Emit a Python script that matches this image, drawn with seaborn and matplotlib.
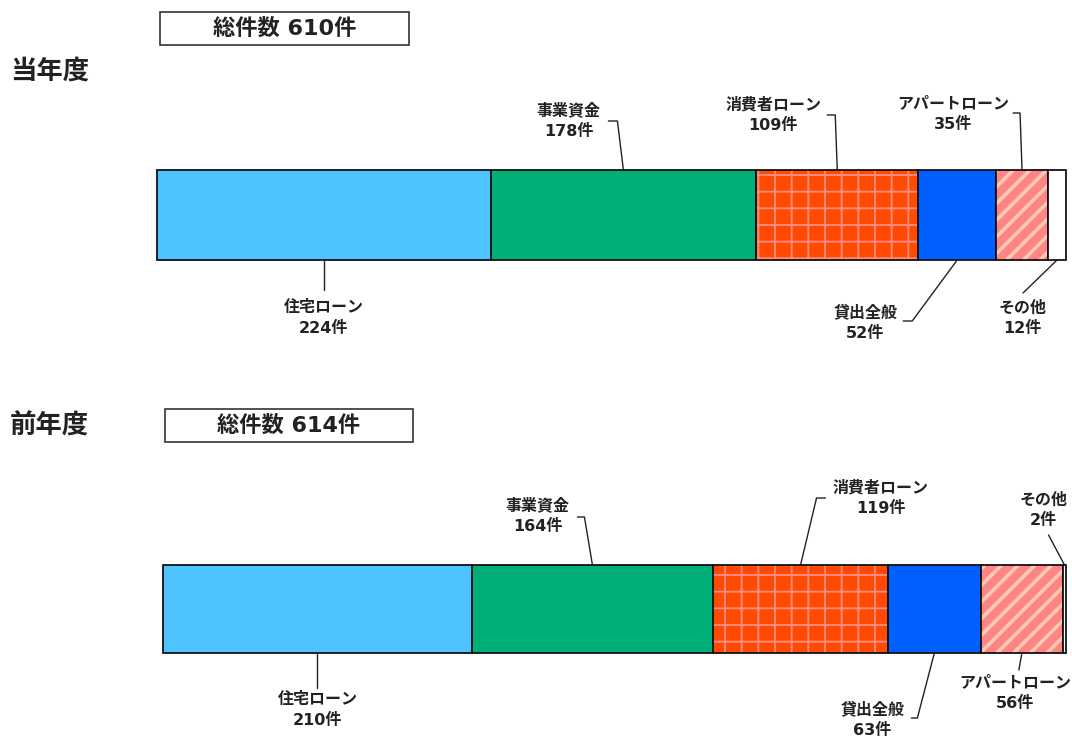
import matplotlib
matplotlib.use("Agg")
import matplotlib.pyplot as plt
from matplotlib.patches import Rectangle
from matplotlib.lines import Line2D
import seaborn as sns

# ---- data ----
categories = ['住宅ローン', '事業資金', '消費者ローン', '貸出全般', 'アパートローン', 'その他']
current = [224, 178, 109, 52, 35, 12]
previous = [210, 164, 119, 63, 56, 2]
year_labels = ['当年度', '前年度']
unit = '件'

# ---- style ----
sns.set_theme(style='white')
plt.rcParams['font.family'] = ['DejaVu Sans', 'Noto Sans CJK JP']
plt.rcParams['hatch.linewidth'] = 1.6

colors = ['#4FC3FF', '#00AF78', '#FF4A00', '#005FFF', '#FF8585', '#FFFFFF']
hatches = [None, None, '+', None, '//', None]
hatch_colors = [None, None, '#FF8A80', None, '#FFC9B3', None]
hatch_lw = [None, None, 1.4, None, 2.6, None]

W, H = 1072, 738
fig = plt.figure(figsize=(W / 100, H / 100), dpi=100)


def px(x, y):
    """figure pixel (top-left origin) -> figure fraction"""
    return x / W, 1 - y / H


rows = [
    dict(vals=current, left=157, right=1066, top=170, bottom=260, title_y=72,
         box=(160, 12, 409, 45),
         ann=[('b', [(0, 0), (0, 30)], (0, 58)),
              ('t', [(0, 0), (-6, -49), (-15, -49)], (-55, -49)),
              ('t', [(0, 0), (-2, -55), (-10, -55)], (-64, -55)),
              ('b', [(0, 0), (-45, 61), (-54, 61)], (-92, 63)),
              ('t', [(0, 0), (-2, -57), (-9, -57)], (-69, -56)),
              ('b', [(0, 0), (-34, 33)], (-35, 58))]),
    dict(vals=previous, left=163, right=1066, top=565, bottom=653, title_y=427,
         box=(165, 409, 413, 442),
         ann=[('b', [(0, 0), (0, 35)], (0, 57)),
              ('t', [(0, 0), (-8, -48), (-15, -48)], (-55, -49)),
              ('t', [(0, 0), (16, -67), (25, -67)], (80, -67)),
              ('b', [(0, 0), (-17, 65), (-23, 65)], (-62, 67)),
              ('b', [(0, 0), (-3, 17)], (-7, 40)),
              ('t', [(0, 0), (-16, -30)], (-21, -55))]),
]

label_fs = 11.5
for r, row in enumerate(rows):
    vals = row['vals']
    total = sum(vals)
    x0, y0 = px(row['left'], row['bottom'])
    x1, y1 = px(row['right'], row['top'])
    ax = fig.add_axes([x0, y0, x1 - x0, y1 - y0])
    ax.set_xlim(0, total)
    ax.set_ylim(-0.5, 0.5)
    ax.axis('off')

    lefts = []
    acc = 0
    for i, v in enumerate(vals):
        lefts.append(acc)
        if hatches[i]:
            with plt.rc_context({'hatch.linewidth': hatch_lw[i]}):
                bars = ax.barh([0], [v], left=[acc], height=1.0, color=colors[i],
                               edgecolor=hatch_colors[i], linewidth=0,
                               hatch=hatches[i])
            for b in bars:
                if hasattr(b, 'set_hatch_linewidth'):
                    b.set_hatch_linewidth(hatch_lw[i])
        else:
            ax.barh([0], [v], left=[acc], height=1.0, color=colors[i], linewidth=0)
        ax.barh([0], [v], left=[acc], height=1.0, fill=False,
                edgecolor='#111111', linewidth=1.3, clip_on=False)
        acc += v

    for i, v in enumerate(vals):
        mid = lefts[i] + v / 2
        side, path, loff = row['ann'][i]
        ax_px = row['left'] + mid / total * (row['right'] - row['left'])
        ay_px = row['top'] if side == 't' else row['bottom']
        xs = [px(ax_px + dx, ay_px + dy)[0] for dx, dy in path]
        ys = [px(ax_px + dx, ay_px + dy)[1] for dx, dy in path]
        fig.add_artist(Line2D(xs, ys, color='#222222', linewidth=1.0))
        lx, ly = px(ax_px + loff[0], ay_px + loff[1])
        fig.text(lx, ly, f'{categories[i]}\n{v}{unit}', ha='center', va='center',
                 fontsize=label_fs, fontweight='bold', color='#222222',
                 linespacing=1.45)

    tx, ty = px(10, row['title_y'])
    fig.text(tx, ty, year_labels[r], ha='left', va='center', fontsize=19,
             fontweight='bold', color='#222222')

    bx0, by0, bx1, by1 = row['box']
    fx0, fy1 = px(bx0, by0)
    fx1, fy0 = px(bx1, by1)
    fig.add_artist(Rectangle((fx0, fy0), fx1 - fx0, fy1 - fy0,
                             transform=fig.transFigure, fill=False,
                             edgecolor='#333333', linewidth=1.2))
    cx, cy = px((bx0 + bx1) / 2, (by0 + by1) / 2)
    fig.text(cx, cy, f'総件数 {total}{unit}', ha='center', va='center',
             fontsize=16, fontweight='bold', color='#222222')

fig.savefig('out.png', dpi=100)
